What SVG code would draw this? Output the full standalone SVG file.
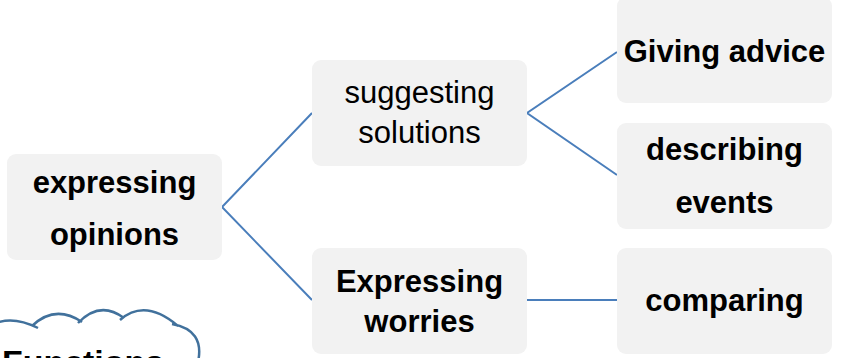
<svg xmlns="http://www.w3.org/2000/svg" width="843" height="358" viewBox="0 0 843 358">
<style>
.box{fill:#f2f2f2;stroke:none}
.t{font-family:"Liberation Sans",Arial,sans-serif;font-size:31px;fill:#000;text-anchor:middle}
.b{font-weight:bold}
.c{stroke:#4a7ebb;stroke-width:2;fill:none}
</style>
<rect width="843" height="358" fill="#fff"/>
<g id="connectors">
<polyline class="c" points="312,113 222,207 312,300"/>
<polyline class="c" points="617,52 527,113 617,175"/>
<line class="c" x1="527" y1="300" x2="617" y2="300"/>
</g>
<g id="n-expressing-opinions">
<rect class="box" x="7" y="154" width="215" height="106" rx="9"/>
<text class="t b" x="114.5" y="193">expressing</text>
<text class="t b" x="114.5" y="245">opinions</text>
</g>
<g id="n-suggesting-solutions">
<rect class="box" x="312" y="60" width="215" height="106" rx="9"/>
<text class="t" x="419.5" y="103" font-size="32">suggesting</text>
<text class="t" x="419.5" y="143" font-size="32">solutions</text>
</g>
<g id="n-expressing-worries">
<rect class="box" x="312" y="248" width="215" height="106" rx="9"/>
<text class="t b" x="419.5" y="292">Expressing</text>
<text class="t b" x="419.5" y="332">worries</text>
</g>
<g id="n-giving-advice">
<rect class="box" x="617" y="-3" width="215" height="106" rx="9"/>
<text class="t b" x="724.5" y="62">Giving advice</text>
</g>
<g id="n-describing-events">
<rect class="box" x="617" y="123" width="215" height="106" rx="9"/>
<text class="t b" x="724.5" y="160">describing</text>
<text class="t b" x="724.5" y="213">events</text>
</g>
<g id="n-comparing">
<rect class="box" x="617" y="248" width="215" height="106" rx="9"/>
<text class="t b" x="724.5" y="311">comparing</text>
</g>
<g id="n-functions">
<path d="M-10,326 Q10,314 38,328 M32,326 Q55,304 82,322 M78,323 Q100,300 124,318 M120,320 Q145,298 178,326 M172,324 Q205,330 198,362" fill="none" stroke="#41719c" stroke-width="2.5"/>
<text class="t b" x="2" y="373" style="text-anchor:start" textLength="162" lengthAdjust="spacingAndGlyphs">Functions</text>
</g>
</svg>
